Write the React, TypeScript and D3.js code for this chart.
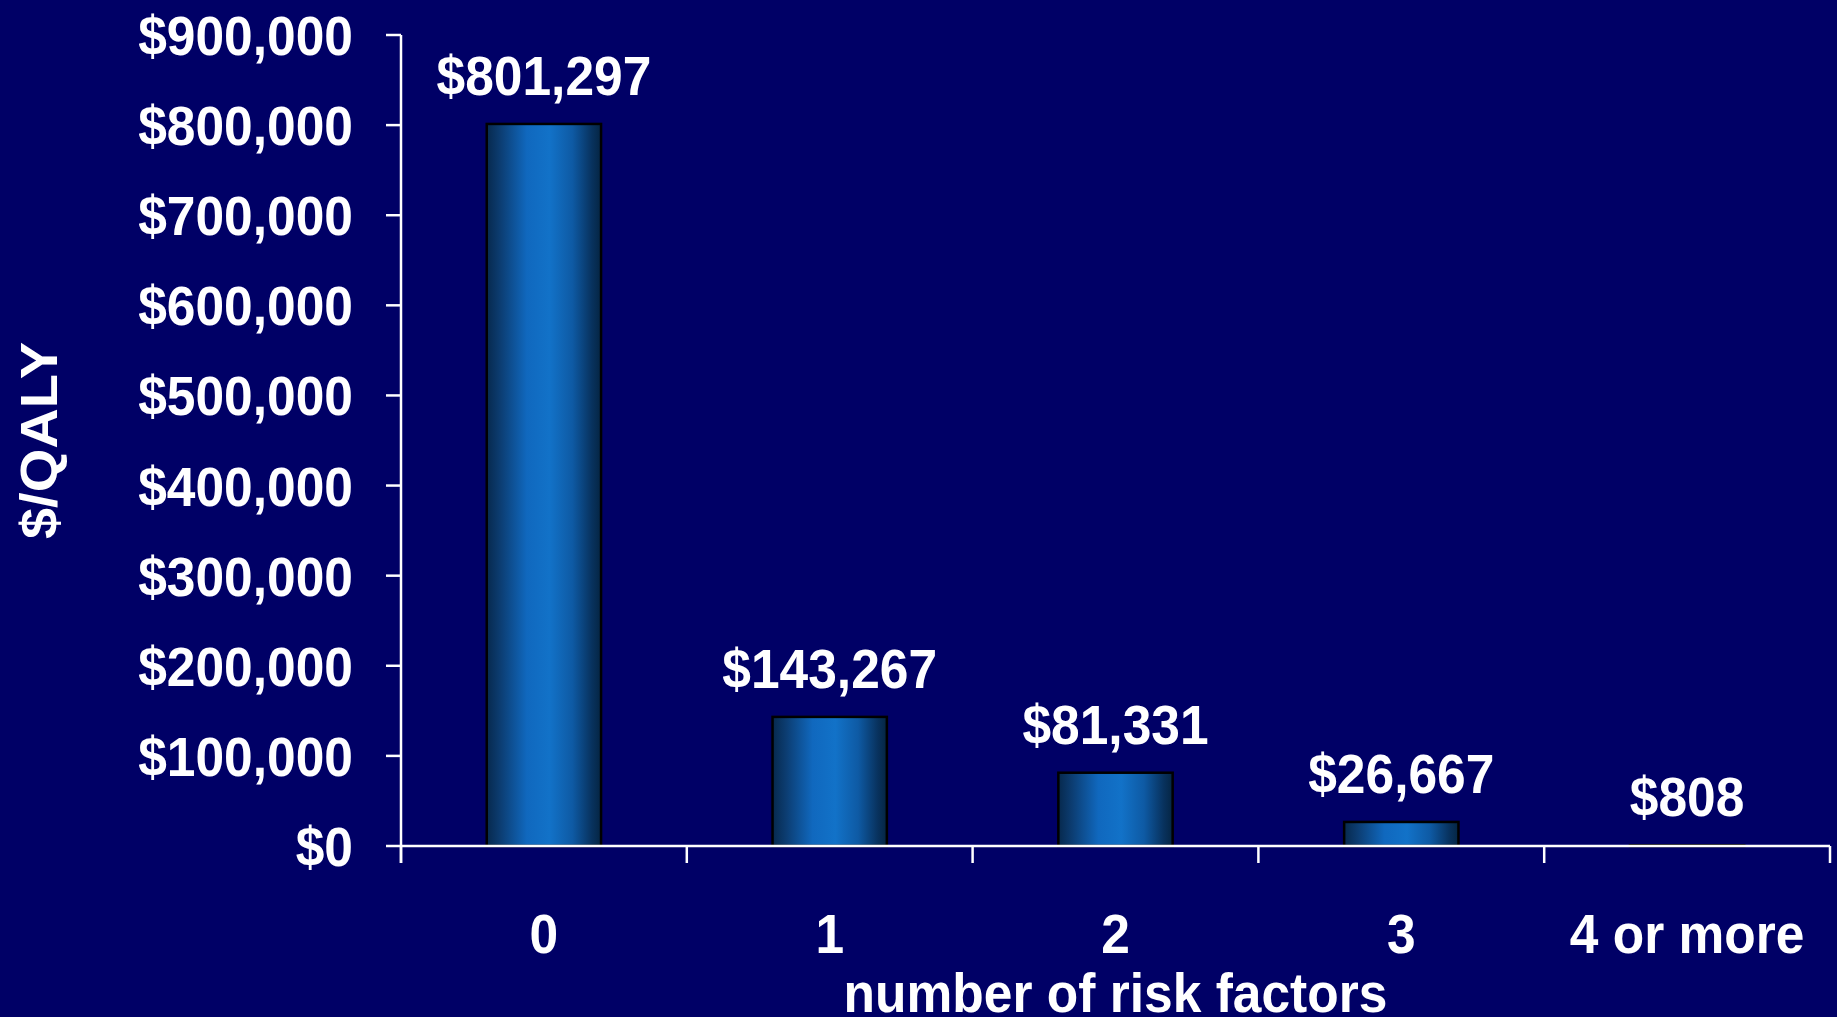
import React from "react";
import * as d3 from "d3";

const categories: string[] = ["0", "1", "2", "3", "4 or more"];
const values: number[] = [801297, 143267, 81331, 26667, 808];
const yTicks: number[] = [0, 100000, 200000, 300000, 400000, 500000, 600000, 700000, 800000, 900000];
const yAxisTitle = "$/QALY";
const xAxisTitle = "number of risk factors";

const W = 1837;
const H = 1017;
const M = { left: 401, right: 7, top: 35, bottom: 171 };
const FONT = "'Liberation Sans', Arial, Helvetica, sans-serif";
const FS = 56;
const SX = 0.92;

export default function App() {
  const x = d3
    .scaleBand<string>()
    .domain(categories)
    .range([M.left, W - M.right])
    .paddingInner(0.6)
    .paddingOuter(0.3);
  const y = d3.scaleLinear().domain([0, 900000]).range([H - M.bottom, M.top]);
  const fmt = d3.format("$,");
  const y0 = y(0);
  const step = x.step();
  const xTickPos = d3.range(categories.length + 1).map((i) => M.left + i * step);

  const T = (props: { x: number; y: number; anchor: string; children: React.ReactNode; rotate?: boolean }) => (
    <g transform={`translate(${props.x},${props.y}) scale(${SX},1)${props.rotate ? " rotate(-90)" : ""}`}>
      <text
        x={0}
        y={0}
        textAnchor={props.anchor as any}
        fill="#ffffff"
        fontFamily={FONT}
        fontWeight="bold"
        fontSize={FS}
      >
        {props.children}
      </text>
    </g>
  );

  return (
    <div style={{ position: "absolute", left: 0, top: 0, width: W, height: H }}>
      <svg width={W} height={H} style={{ display: "block" }}>
        <defs>
          <linearGradient id="barGrad" x1="0" x2="1" y1="0" y2="0">
            <stop offset="0%" stopColor="#07294d" />
            <stop offset="12%" stopColor="#0c3d72" />
            <stop offset="35%" stopColor="#1068be" />
            <stop offset="55%" stopColor="#1272c8" />
            <stop offset="75%" stopColor="#0e5aa4" />
            <stop offset="92%" stopColor="#08325e" />
            <stop offset="100%" stopColor="#052543" />
          </linearGradient>
        </defs>
        <rect x={0} y={0} width={W} height={H} fill="#000066" />

        {/* bars */}
        {categories.map((c, i) => (
          <rect
            key={c}
            x={x(c)!}
            y={y(values[i])}
            width={x.bandwidth()}
            height={Math.max(0.8, y0 - y(values[i]))}
            fill="url(#barGrad)"
            stroke="#000000"
            strokeWidth={2.5}
          />
        ))}

        {/* y axis */}
        <line x1={M.left} x2={M.left} y1={y(900000)} y2={y0 + 17} stroke="#ffffff" strokeWidth={2.5} />
        {yTicks.map((t) => (
          <g key={t}>
            <line x1={M.left - 15} x2={M.left} y1={y(t)} y2={y(t)} stroke="#ffffff" strokeWidth={2.5} />
            <T x={353} y={y(t) + 20} anchor="end">
              {fmt(t)}
            </T>
          </g>
        ))}

        {/* x axis */}
        <line x1={M.left} x2={W - M.right} y1={y0} y2={y0} stroke="#ffffff" strokeWidth={2.5} />
        {xTickPos.map((p, i) => (
          <line key={i} x1={p} x2={p} y1={y0} y2={y0 + 17} stroke="#ffffff" strokeWidth={2.5} />
        ))}

        {/* value labels */}
        {categories.map((c, i) => (
          <T key={c} x={x(c)! + x.bandwidth() / 2} y={y(values[i]) - 29} anchor="middle">
            {fmt(values[i])}
          </T>
        ))}

        {/* category labels */}
        {categories.map((c) => (
          <T key={c} x={x(c)! + x.bandwidth() / 2} y={953} anchor="middle">
            {c}
          </T>
        ))}

        {/* axis titles */}
        <T x={(M.left + W - M.right) / 2} y={1012} anchor="middle">
          {xAxisTitle}
        </T>
        <T x={57} y={(y(900000) + y0) / 2} anchor="middle" rotate>
          {yAxisTitle}
        </T>
      </svg>
    </div>
  );
}
